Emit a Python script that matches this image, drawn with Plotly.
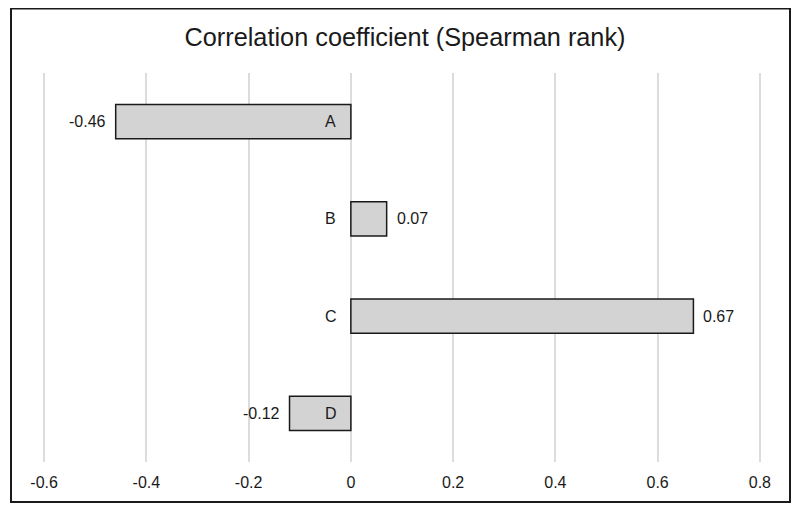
import plotly.graph_objects as go

categories = ["A", "B", "C", "D"]
values = [-0.46, 0.07, 0.67, -0.12]
value_labels = ["-0.46", "0.07", "0.67", "-0.12"]
tick_vals = [-0.6, -0.4, -0.2, 0, 0.2, 0.4, 0.6, 0.8]
tick_text = ["-0.6", "-0.4", "-0.2", "0", "0.2", "0.4", "0.6", "0.8"]
title_text = "Correlation coefficient (Spearman rank)"

FONT = "Liberation Sans, Arial, sans-serif"
# page has an 8px body margin, so the figure is sized/positioned to compensate
W, H = 794, 508
L, R, T, B = 31, 37, 65, 54

fig = go.Figure()
fig.add_trace(go.Bar(
    x=values, y=categories, orientation="h",
    marker=dict(color="#d3d3d3", line=dict(color="#1a1a1a", width=1.5)),
    width=0.35, hoverinfo="skip",
))

annotations = []
for c, v, t in zip(categories, values, value_labels):
    annotations.append(dict(
        x=v, y=c, xref="x", yref="y", text=t, showarrow=False,
        xanchor="left" if v >= 0 else "right",
        xshift=8 if v >= 0 else -8,
        font=dict(family=FONT, size=16, color="#1a1a1a"),
    ))
    annotations.append(dict(
        x=0, y=c, xref="x", yref="y", text=c, showarrow=False,
        xanchor="center", xshift=-20,
        font=dict(family=FONT, size=16, color="#1a1a1a"),
    ))

pw = W - L - R
ph = H - T - B
frame = dict(
    type="rect", xref="paper", yref="paper",
    x0=(3 - L) / pw, x1=(782 - L) / pw,
    y0=(H - B - 494) / ph, y1=(H - B - 0.5) / ph,
    line=dict(color="#1a1a1a", width=2), fillcolor="rgba(0,0,0,0)",
    layer="above",
)

fig.update_layout(
    width=W, height=H,
    margin=dict(l=L, r=R, t=T, b=B),
    paper_bgcolor="white", plot_bgcolor="white",
    showlegend=False,
    title=dict(text=title_text, x=0.5, xanchor="center", y=1 - 29 / H,
               yanchor="middle", yref="container",
               font=dict(family=FONT, size=25.3, color="#1a1a1a")),
    xaxis=dict(range=[-0.61, 0.81], tickvals=tick_vals, ticktext=tick_text,
               showgrid=True, gridcolor="#dcdcdc", gridwidth=1.5,
               zeroline=True, zerolinecolor="#dcdcdc", zerolinewidth=1.5,
               showline=False, ticks="", ticklabelstandoff=9,
               tickfont=dict(family=FONT, size=16, color="#1a1a1a"),
               fixedrange=True),
    yaxis=dict(categoryorder="array", categoryarray=categories,
               autorange="reversed", showticklabels=False, showgrid=False,
               zeroline=False, showline=False, ticks="", fixedrange=True),
    annotations=annotations,
    shapes=[frame],
)

fig.write_html("out.html")
